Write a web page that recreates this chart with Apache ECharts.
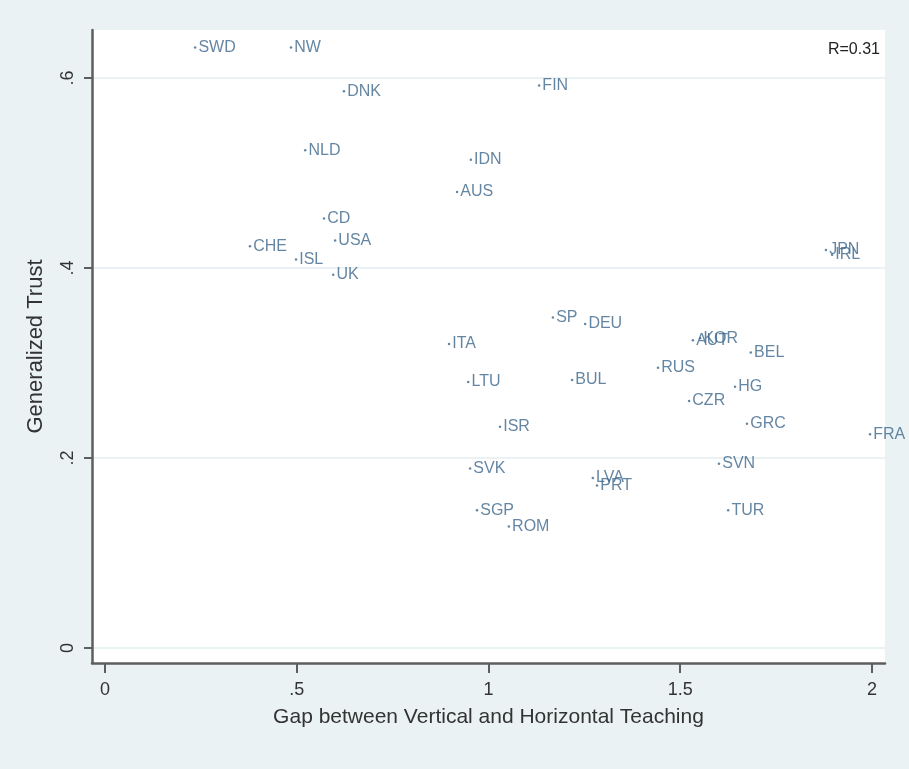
<!DOCTYPE html>
<html>
<head>
<meta charset="utf-8">
<script src="https://cdn.jsdelivr.net/npm/echarts@6/dist/echarts.min.js"></script>
<style>
html,body{margin:0;padding:0;background:#eaf2f3;}
#c{width:909px;height:769px;}
</style>
</head>
<body>
<div id="c"></div>
<script>
const countries = ['SWD','NW','DNK','FIN','NLD','IDN','AUS','CD','USA','CHE','ISL','UK','JPN','IRL','SP','DEU','AUT','KOR','BEL','ITA','RUS','LTU','BUL','HG','CZR','GRC','FRA','ISR','SVK','SVN','LVA','PRT','SGP','TUR','ROM'];
const gap   = [0.235,0.485,0.623,1.132,0.522,0.954,0.918,0.571,0.600,0.378,0.498,0.595,1.880,1.896,1.168,1.252,1.533,1.552,1.684,0.897,1.442,0.947,1.218,1.643,1.523,1.674,1.995,1.030,0.952,1.601,1.272,1.283,0.970,1.625,1.053];
const trust = [0.632,0.632,0.586,0.592,0.524,0.514,0.480,0.452,0.429,0.423,0.409,0.393,0.419,0.414,0.348,0.341,0.324,0.326,0.311,0.320,0.295,0.280,0.282,0.275,0.260,0.236,0.225,0.233,0.189,0.194,0.179,0.171,0.145,0.145,0.128];
const xTicks = [0,0.5,1,1.5,2];
const yTicks = [0,0.2,0.4,0.6];
const rLabel = 'R=0.31';

const fmt = v => (Math.abs(v) < 1e-9 ? '0' : String(+v.toFixed(2)).replace(/^0\./, '.'));
const textColor = '#333333';
const markColor = '#3f688c';
const font = 'Liberation Sans, Arial, sans-serif';

const chart = echarts.init(document.getElementById('c'), null, {renderer:'canvas'});
chart.setOption({
  backgroundColor: '#eaf2f3',
  animation: false,
  title: {
    text: rLabel, right: 24, top: 37,
    textStyle: {fontFamily: font, fontSize: 16, fontWeight: 'normal', color: '#222'}
  },
  grid: {left: 92, right: 24, top: 30, bottom: 106, show: true, backgroundColor: '#ffffff', borderWidth: 0},
  xAxis: {
    type: 'value', min: -0.034, max: 2.034,
    name: 'Gap between Vertical and Horizontal Teaching',
    nameLocation: 'middle', nameGap: 44,
    nameTextStyle: {fontFamily: font, fontSize: 21, color: textColor},
    axisLine: {show: true, onZero: false, lineStyle: {color: '#5e5e5e', width: 2.5}},
    axisTick: {show: true, customValues: xTicks, length: 10, lineStyle: {color: '#5e5e5e', width: 2}},
    axisLabel: {customValues: xTicks, formatter: fmt, fontFamily: font, fontSize: 18, color: textColor, margin: 18},
    splitLine: {show: false}
  },
  yAxis: {
    type: 'value', min: -0.0158, max: 0.6505,
    name: 'Generalized Trust',
    nameLocation: 'middle', nameGap: 45, nameRotate: 90,
    nameTextStyle: {fontFamily: font, fontSize: 22, color: textColor},
    axisLine: {show: true, onZero: false, lineStyle: {color: '#5e5e5e', width: 2.5}},
    axisTick: {show: true, customValues: yTicks, length: 8, lineStyle: {color: '#5e5e5e', width: 2}},
    axisLabel: {customValues: yTicks, formatter: fmt, rotate: 90, fontFamily: font, fontSize: 18, color: textColor, margin: 15},
    splitLine: {show: false}
  },
  series: [{
    type: 'scatter',
    symbol: 'circle', symbolSize: 2.5,
    itemStyle: {color: markColor},
    label: {
      show: true, position: 'right', distance: 2,
      formatter: p => p.name,
      fontFamily: font, fontSize: 16, color: markColor
    },
    data: countries.map((c, i) => ({name: c, value: [gap[i], trust[i]]})),
    markLine: {
      silent: true, symbol: 'none', z: 0,
      label: {show: false},
      lineStyle: {color: '#eaf2f3', width: 2, type: 'solid'},
      data: yTicks.map(v => ({yAxis: v}))
    },
    z: 3
  }]
});
</script>
</body>
</html>
